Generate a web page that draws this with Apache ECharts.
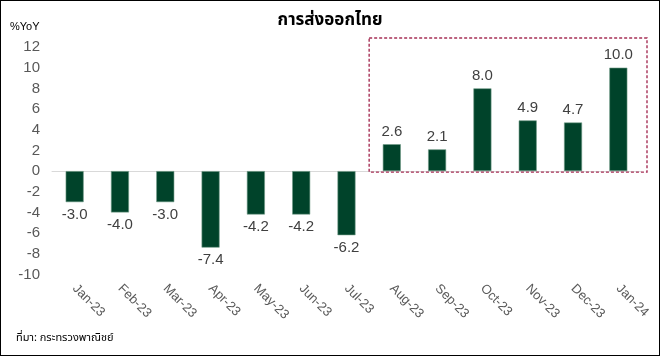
<!DOCTYPE html>
<html><head><meta charset="utf-8">
<script src="https://cdn.jsdelivr.net/npm/echarts@6/dist/echarts.min.js"></script>
<style>
html,body{margin:0;padding:0;background:#fff;}
#frame{position:absolute;left:0;top:0;width:658px;height:354px;border:1px solid #000;}
#c{width:660px;height:356px;position:absolute;left:-1px;top:-1px;}
</style></head>
<body><div id="frame"><div id="c"></div></div>
<script>
const categories = ['Jan-23','Feb-23','Mar-23','Apr-23','May-23','Jun-23','Jul-23','Aug-23','Sep-23','Oct-23','Nov-23','Dec-23','Jan-24'];
const values = [-3.0,-4.0,-3.0,-7.4,-4.2,-4.2,-6.2,2.6,2.1,8.0,4.9,4.7,10.0];
const yMin = -10, yMax = 12, yStep = 2;
const titleText = 'การส่งออกไทย';
const unitText = '%YoY';
const sourceText = 'ที่มา: กระทรวงพาณิชย์';
const highlightFrom = 'Aug-23', highlightTo = 'Jan-24';

const font = "'Liberation Sans', Arial, sans-serif";
const chart = echarts.init(document.getElementById('c'));
chart.setOption({
  animation:false,
  textStyle:{fontFamily:font},
  title:{text:titleText,left:'center',top:8,textStyle:{fontSize:17,fontWeight:'bold',color:'#000',fontFamily:"'Noto Sans Thai','Noto Sans','Liberation Sans',sans-serif"}},
  grid:{left:52,right:19,top:47,bottom:81.5},
  xAxis:{type:'category',data:categories,
    axisLine:{show:true,lineStyle:{color:'#d9d9d9',width:1}},axisTick:{show:false},
    axisLabel:{rotate:-45,interval:0,color:'#595959',fontSize:13,margin:12,fontFamily:font}},
  yAxis:{type:'value',min:yMin,max:yMax,interval:yStep,splitLine:{show:false},
    axisLine:{show:false},axisTick:{show:false},
    axisLabel:{color:'#595959',fontSize:15,margin:12,fontFamily:font}},
  series:[{type:'bar',barWidth:18,
    data:values.map(v=>({value:v,label:{position:v<0?'bottom':'top'}})),
    itemStyle:{color:'#00432a',borderColor:'#6f9a86',borderWidth:0.6},
    label:{show:true,fontSize:15,color:'#404040',fontFamily:font,distance:5,
      formatter:p=>p.value.toFixed(1)}
  }],
  graphic:[
    {type:'text',left:10,top:21,style:{text:unitText,fontSize:11,fill:'#000',fontFamily:font}},
    {type:'text',left:16,top:333,style:{text:sourceText,fontSize:11,fill:'#000',fontFamily:"'Noto Sans Thai','Noto Sans',sans-serif"}}
  ]
});
// dashed highlight box around the positive months
const i0 = categories.indexOf(highlightFrom), i1 = categories.indexOf(highlightTo);
const c0 = chart.convertToPixel({xAxisIndex:0},categories[i0]);
const c1 = chart.convertToPixel({xAxisIndex:0},categories[i1]);
const band = (c1-c0)/(i1-i0);
const yTop = chart.convertToPixel({yAxisIndex:0},yMax);
const yZero = chart.convertToPixel({yAxisIndex:0},0);
chart.setOption({graphic:[{},{},{type:'rect',shape:{x:c0-band/2,y:yTop-9,width:(c1-c0)+band+6,height:yZero-yTop+10},
  style:{fill:'none',stroke:'#a62f55',lineWidth:1.4,lineDash:[3,2]},z:10}]});
</script></body></html>
